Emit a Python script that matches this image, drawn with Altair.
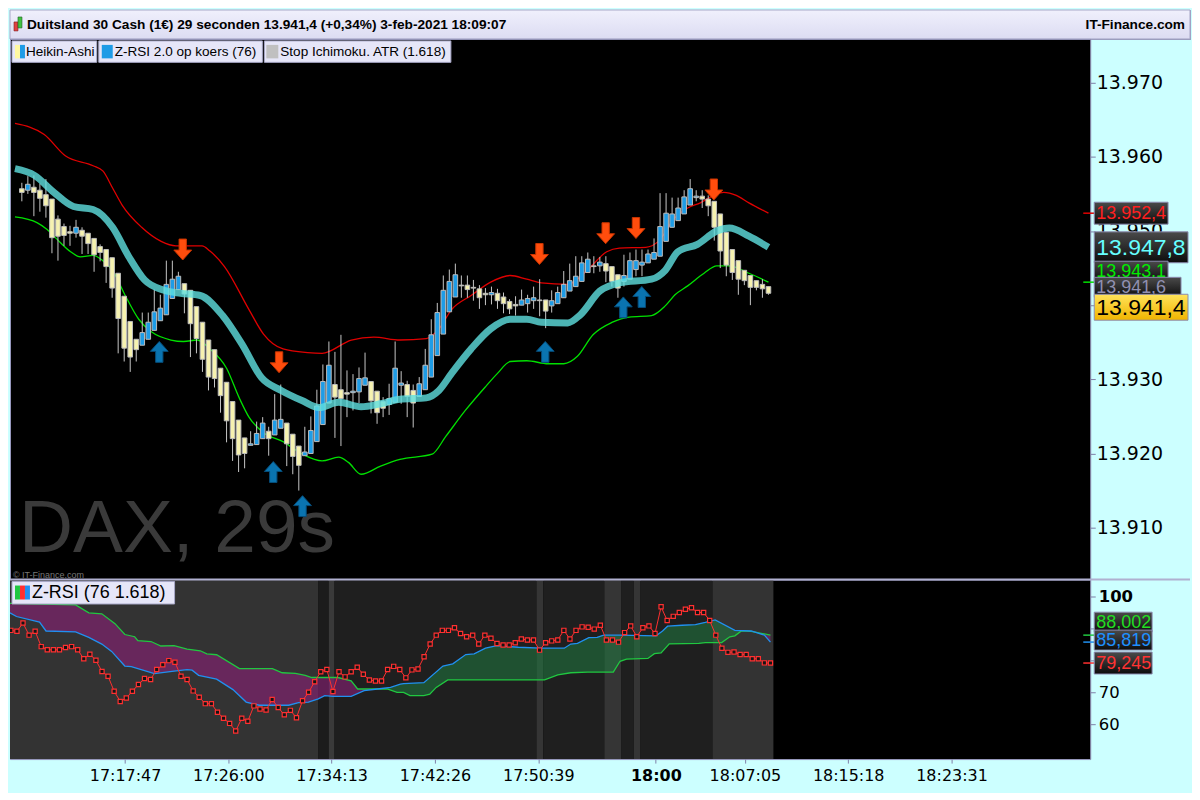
import altair as alt
import pandas as pd
import numpy as np

# ---------------- layout constants ----------------
W, H_HEAD, H_MAIN, H_LOW, TOTAL_W = 1083, 29, 542, 180, 1183
X_DOM = [518, 5673]                # seconds after 17:00:00
Y_MAIN_DOM = [13903.0, 13975.9]
Y_LOW_DOM = [49.1, 105.45]
FONT = "Liberation Sans"
AXFONT = "DejaVu Sans"

# ---------------- Heikin-Ashi candles (29 s) ----------------
first_candle_sec = 551
candle_step = 29
ha_open = [13955.7,13955.5,13955.9,13955.5,13954.9,13954.3,13951.6,13950.6,13949.9,13949.7,
           13950.1,13949.7,13949.0,13947.9,13947.5,13946.4,13944.3,13941.2,13937.8,13935.4,
           13934.6,13935.4,13936.6,13937.9,13938.7,13940.9,13942.1,13942.9,13942.0,13939.8,
           13937.7,13935.3,13934.0,13931.5,13929.6,13927.0,13924.5,13922.1,13921.1,13921.2,
           13922.0,13923.0,13922.5,13923.4,13924.1,13922.6,13921.0,13919.7,13920.0,13921.6,
           13923.9,13926.8,13929.3,13928.6,13928.2,13928.2,13928.3,13929.2,13929.7,13928.4,
           13927.0,13926.6,13926.9,13929.2,13929.3,13928.5,13927.7,13928.6,13930.3,13933.2,
           13936.1,13939.1,13941.1,13942.7,13942.7,13942.4,13942.2,13941.6,13941.4,13941.6,
           13941.1,13940.5,13940.1,13940.0,13940.2,13940.6,13940.7,13940.7,13939.9,13940.2,
           13941.0,13941.9,13942.5,13943.2,13944.4,13945.3,13945.3,13945.6,13945.2,13944.1,
           13943.2,13943.5,13944.8,13945.4,13945.7,13946.2,13946.6,13948.6,13950.5,13951.4,
           13952.3,13953.5,13954.5,13954.7,13954.3,13954.0,13952.3,13949.8,13947.5,13946.0,
           13944.7,13944.0,13943.3,13942.8,13942.5]
ha_close = [13955.2,13956.3,13955.2,13954.4,13953.4,13949.1,13949.3,13949.4,13949.7,13950.5,
            13949.3,13948.3,13946.8,13947.1,13945.2,13942.3,13938.2,13934.2,13933.0,13934.0,
            13936.3,13937.7,13939.1,13939.6,13942.8,13943.5,13943.9,13941.5,13937.5,13935.5,
            13932.7,13930.3,13930.1,13927.8,13924.4,13922.0,13919.8,13920.0,13921.3,13922.7,
            13924.1,13922.0,13924.5,13924.6,13921.3,13919.6,13918.4,13920.2,13923.1,13926.4,
            13929.7,13931.9,13927.6,13927.4,13928.0,13928.4,13930.1,13930.2,13927.1,13925.5,
            13926.1,13927.4,13931.5,13929.5,13927.7,13926.8,13929.4,13931.9,13936.0,13939.0,
            13942.0,13943.2,13944.1,13942.6,13942.1,13942.3,13941.0,13941.4,13941.7,13940.6,
            13940.2,13939.5,13939.9,13940.7,13940.9,13941.0,13940.6,13939.2,13940.6,13941.7,
            13942.8,13943.3,13943.9,13945.7,13946.2,13945.2,13945.8,13944.6,13943.2,13942.3,
            13944.0,13946.0,13946.0,13945.8,13946.9,13947.1,13950.6,13952.4,13952.3,13953.1,
            13954.6,13955.7,13954.7,13954.3,13953.4,13950.5,13947.3,13945.4,13944.4,13943.5,
            13943.3,13942.4,13942.4,13942.2,13941.6]
ha_high = [13956.5,13957.4,13957.5,13956.4,13957.0,13954.3,13952.1,13951.0,13950.7,13951.5,
           13950.5,13949.7,13949.0,13948.2,13947.5,13946.4,13944.3,13941.2,13937.8,13935.4,
           13939.0,13939.0,13942.1,13941.4,13946.0,13946.0,13944.5,13942.9,13942.0,13939.8,
           13937.7,13935.3,13934.0,13931.5,13929.6,13927.0,13924.5,13922.1,13923.0,13924.3,
           13924.9,13923.6,13928.0,13929.3,13924.1,13922.6,13921.0,13923.6,13925.0,13928.6,
           13932.0,13935.1,13933.7,13936.0,13931.2,13930.7,13931.6,13933.6,13929.7,13928.4,
           13927.6,13929.4,13935.1,13931.1,13929.8,13929.3,13930.3,13934.1,13938.1,13940.3,
           13944.0,13944.8,13945.6,13944.0,13944.0,13943.4,13942.7,13942.3,13942.5,13942.2,
           13941.7,13940.8,13941.2,13942.1,13941.4,13942.5,13943.5,13940.7,13942.0,13942.5,
           13944.6,13945.6,13946.6,13946.6,13947.1,13946.6,13946.5,13946.6,13945.2,13944.1,
           13946.8,13947.1,13947.5,13947.5,13947.5,13949.0,13955.1,13955.1,13954.5,13954.5,
           13955.5,13957.0,13955.5,13955.5,13954.8,13954.0,13952.3,13949.8,13947.5,13946.0,
           13944.7,13944.0,13943.3,13943.5,13942.5]
ha_low = [13954.0,13955.0,13952.0,13952.6,13951.8,13947.0,13946.0,13948.0,13948.0,13949.1,
          13946.9,13946.9,13944.5,13945.9,13943.0,13941.0,13933.5,13932.4,13931.0,13932.4,
          13934.6,13935.4,13936.6,13937.9,13938.7,13940.9,13942.1,13938.9,13933.0,13933.5,
          13931.0,13928.5,13928.9,13925.5,13921.5,13919.0,13917.5,13918.0,13921.1,13921.2,
          13922.0,13919.7,13922.5,13923.4,13918.3,13917.2,13915.0,13919.7,13920.0,13921.6,
          13923.9,13926.8,13922.1,13921.0,13924.9,13925.8,13926.8,13929.2,13925.4,13924.0,
          13924.9,13925.2,13926.9,13926.7,13924.9,13923.5,13927.7,13928.6,13930.3,13933.2,
          13936.1,13939.1,13941.1,13941.0,13941.0,13940.6,13939.5,13940.0,13940.1,13939.5,
          13938.9,13938.8,13938.6,13940.0,13939.0,13939.5,13938.5,13936.9,13939.0,13940.2,
          13941.0,13941.9,13942.5,13943.2,13944.4,13944.3,13944.5,13943.1,13942.5,13941.0,
          13942.5,13943.5,13943.9,13943.9,13945.7,13946.2,13946.6,13948.6,13950.5,13951.4,
          13952.3,13953.5,13954.0,13953.1,13952.0,13948.7,13945.0,13943.9,13943.4,13941.4,
          13942.7,13940.0,13942.0,13941.0,13941.4]

# ---------------- Stop Ichimoku ATR bands ----------------
red_t = [518,659,762,894,941,988,1034,1128,1222,1293,1419,1457,1527,1645,1715,1809,1927,1997,2138,2246,
         2372,2499,2560,2621,2715,2809,2903,2983,3053,3180,3274,3368,3429,3556,3617,3697,3758,3819,3884,
         3931,3992,4053,4147]
red_v = [13964.5,13963.0,13960.1,13958.8,13958.1,13955.8,13953.5,13950.5,13948.6,13948.0,13948.0,13947.3,
         13945.2,13939.4,13936.1,13934.1,13933.6,13933.5,13935.3,13935.7,13935.3,13935.5,13936.8,13939.4,
         13941.3,13943.1,13944.0,13943.5,13943.0,13942.8,13944.7,13947.2,13947.7,13947.8,13948.6,13951.8,
         13953.1,13953.8,13954.8,13955.2,13954.8,13953.8,13952.4]
teal_t = [518,612,706,800,894,988,1067,1142,1236,1316,1410,1518,1612,1706,1800,1903,1983,2077,2185,2279,
          2372,2499,2560,2621,2715,2809,2903,2983,3053,3180,3241,3335,3429,3584,3650,3711,3805,3898,3959,
          4053,4147]
teal_v = [13958.4,13957.5,13955.2,13953.3,13952.9,13950.5,13946.5,13943.4,13942.0,13941.6,13941.3,13938.6,
          13934.7,13930.2,13928.5,13927.1,13926.2,13926.9,13926.3,13926.7,13927.3,13927.5,13928.5,13930.8,
          13934.1,13936.8,13938.1,13938.1,13937.7,13937.6,13938.7,13941.9,13943.0,13943.5,13944.7,13947.2,
          13948.2,13950.0,13950.4,13949.3,13947.8]
green_t = [518,626,673,720,786,833,894,941,988,1049,1114,1175,1269,1330,1396,1457,1537,1598,1645,1715,
           1809,1903,1997,2077,2124,2185,2279,2372,2527,2593,2687,2781,2842,2903,2983,3086,3161,3227,3302,
           3396,3476,3584,3650,3697,3758,3837,3898,3959,4053,4147]
green_v = [13951.9,13951.1,13950.2,13948.9,13947.2,13946.5,13946.7,13946.0,13944.7,13941.3,13938.1,13936.4,
           13935.3,13935.1,13935.3,13934.1,13931.5,13927.5,13924.9,13922.8,13921.6,13919.9,13919.0,13919.5,
           13918.8,13917.2,13918.3,13919.2,13919.9,13922.3,13925.8,13928.9,13930.8,13932.4,13932.5,13932.1,
           13932.1,13933.1,13936.0,13937.7,13938.4,13938.6,13939.9,13941.4,13942.6,13944.3,13945.3,13945.3,
           13944.3,13943.1]

# signal arrows
down_t = [1326, 1790, 3044, 3363, 3509, 3884]
down_p = [13947.5, 13932.3, 13946.9, 13949.7, 13950.4, 13955.6]
up_t = [1213, 1762, 1903, 3072, 3448, 3537]
up_p = [13933.7, 13917.5, 13912.9, 13933.7, 13939.7, 13941.1]

# ---------------- Z-RSI panel ----------------
zr_first_sec = 522
zr_red = [89.5,
          89.2,91.8,88.0,89.2,84.4,83.4,83.4,83.4,84.1,84.4,83.4,80.6,82.0,80.1,76.6,75.1,70.4,67.2,68.3,70.4,
          72.5,74.4,74.1,77.2,78.7,80.0,79.5,75.1,74.1,70.5,68.5,66.5,66.5,63.8,61.9,60.3,57.9,61.9,61.0,65.8,
          64.8,64.5,67.8,65.3,63.0,64.4,62.1,67.4,70.1,73.4,76.5,77.2,70.3,76.5,74.9,76.5,77.9,75.7,73.9,73.6,
          73.6,77.2,78.2,77.2,
          74.6,77.1,77.4,81.2,85.2,88.0,89.5,89.5,90.3,88.5,87.5,88.0,85.2,88.0,87.0,85.4,84.9,84.9,85.6,86.8,
          86.5,86.5,83.3,85.6,86.2,86.5,89.5,86.8,89.5,90.6,90.5,89.9,91.1,86.5,86.5,85.8,88.8,90.9,87.5,90.3,
          90.9,88.5,96.9,92.6,93.9,95.1,96.1,96.6,95.1,95.1,92.6,88.0,83.9,82.6,82.7,81.9,81.9,80.6,80.6,79.3,
          79.245]
zb_t = [518,549,659,690,831,894,956,1003,1066,1097,1207,1301,1363,1387,1418,1504,1582,1645,1707,1848,1895,
        1942,1989,2020,2059,2146,2208,2271,2334,2381,2396,2493,2584,2631,2693,2733,2787,2842,2944,3053,3163,
        3194,3226,3280,3320,3351,3429,3601,3632,3656,3726,3789,3836,3883,3977,4055,4118,4147]
zb_v = [95.0,93.85,92.1,89.3,89.0,87.3,85.2,82.9,78.3,78.1,75.9,76.7,77.2,77.0,75.4,74.2,70.9,67.0,66.0,66.0,
        66.8,67.0,68.0,69.0,68.8,68.8,70.6,71.1,71.6,72.6,72.8,73.1,78.3,79.0,81.9,82.1,83.9,84.7,84.2,83.9,
        83.9,85.2,85.4,87.2,87.3,88.0,88.0,87.8,89.3,90.8,91.1,91.3,92.0,92.8,89.5,89.3,88.0,85.819]
zg_t = [518,831,894,956,1019,1066,1113,1128,1191,1238,1301,1363,1426,1457,1504,1613,1770,1817,1880,1927,
        1958,2083,2146,2177,2318,2365,2396,2427,2493,2521,2552,2607,3069,3132,3194,3273,3397,3429,3460,3562,
        3593,3625,3664,3805,3836,3914,3953,3977,4008,4055,4086,4147]
zg_v = [98.0,97.5,95.0,94.7,91.6,88.2,87.5,86.3,86.0,84.6,84.7,83.6,83.1,82.1,81.85,77.5,77.5,76.2,76.0,75.4,
        74.7,74.7,73.65,71.1,71.1,70.06,70.06,69.03,69.03,69.5,71.6,73.95,73.95,75.5,76.2,76.4,76.4,79.8,80.5,
        80.7,82.2,82.4,85.24,85.4,85.65,85.65,87.5,87.8,89.34,89.2,88.8,88.002]

# background session bands of the Z-RSI panel
band_t0 = [518, 1988, 2039, 2067, 3030, 3063, 3354, 3434, 3495, 3527, 3870]
band_t1 = [1988, 2039, 2067, 3030, 3063, 3354, 3434, 3495, 3527, 3870, 4161]
band_col = ['#333333', '#1c1c1c', '#3a3a3a', '#1f1f1f', '#353535', '#1f1f1f',
            '#353535', '#1f1f1f', '#353535', '#1f1f1f', '#333333']

x_tick_secs = [1067, 1560, 2053, 2546, 3039, 3600, 4025, 4518, 5011]
main_ticks = [13910, 13920, 13930, 13940, 13950, 13960, 13970]
low_ticks = [60, 70, 80, 90, 100]

# ---------------- data frames ----------------
cdf = pd.DataFrame({'t': [first_candle_sec + candle_step * i for i in range(len(ha_open))],
                    'o': ha_open, 'c': ha_close, 'h': ha_high, 'l': ha_low})
cdf['col'] = np.where(cdf['c'] > cdf['o'], '#1e9ce6', '#f6f2b0')
red_df = pd.DataFrame({'t': red_t, 'v': red_v})
teal_df = pd.DataFrame({'t': teal_t, 'v': teal_v})
green_df = pd.DataFrame({'t': green_t, 'v': green_v})
down_df = pd.DataFrame({'t': down_t, 'p': down_p})
up_df = pd.DataFrame({'t': up_t, 'p': up_p})
zr_df = pd.DataFrame({'t': [zr_first_sec + candle_step * i for i in range(len(zr_red))], 'v': zr_red})
zb_df = pd.DataFrame({'t': zb_t, 'v': zb_v})
zg_df = pd.DataFrame({'t': zg_t, 'v': zg_v})
band_df = pd.DataFrame({'t0': band_t0, 't1': band_t1, 'col': band_col})
grid = np.union1d(np.union1d(zb_t, zg_t), np.arange(518, 4148, 3))
gb = np.interp(grid, zb_t, zb_v)
gg = np.interp(grid, zg_t, zg_v)
fill_df = pd.DataFrame({'t': grid, 'g': gg, 'b': gb, 'lo': np.minimum(gb, gg)})
one = pd.DataFrame({'k': [0]})

xs = alt.Scale(domain=X_DOM, nice=False, zero=False)
ys = alt.Scale(domain=Y_MAIN_DOM, nice=False, zero=False)
yl = alt.Scale(domain=Y_LOW_DOM, nice=False, zero=False)

main_axis = alt.Axis(orient='right', values=main_ticks, title=None, grid=False, domain=False,
                     labelExpr="replace(format(datum.value, ',.0f'), ',', '.')",
                     tickColor='#8080a8', tickSize=5, labelPadding=1, labelFont=AXFONT,
                     labelFontSize=19, labelColor='#000000', minExtent=100, maxExtent=100)
low_axis = alt.Axis(orient='right', values=low_ticks, title=None, grid=False, domain=False,
                    tickColor='#8080a8', tickSize=5, labelPadding=3, labelFont=AXFONT, labelFontSize=16.5,
                    labelColor='#000000', minExtent=100, maxExtent=100,
                    labelFontWeight={"condition": {"test": "datum.value == 100", "value": "bold"},
                                     "value": "normal"})
x_axis = alt.Axis(orient='bottom', values=x_tick_secs, title=None, grid=False, domain=False,
                  labelExpr=("datum.value == 3600 ? '18:00' : (17 + floor(datum.value / 3600)) + ':' + "
                             "(floor((datum.value % 3600) / 60) < 10 ? '0' : '') + floor((datum.value % 3600) / 60)"
                             " + ':' + (datum.value % 60 < 10 ? '0' : '') + (datum.value % 60)"),
                  tickColor='#8080a8', tickSize=4, labelPadding=4, labelFont=AXFONT, labelFontSize=16,
                  labelColor='#000000', minExtent=32, maxExtent=32, labelFlush=False,
                  labelFontWeight={"condition": {"test": "datum.value == 3600", "value": "bold"},
                                   "value": "normal"})


def XM(f):
    return alt.X(f, type='quantitative', scale=xs, axis=None)


def XL(f):
    return alt.X(f, type='quantitative', scale=xs, axis=x_axis)


def YM(f):
    return alt.Y(f, type='quantitative', scale=ys, axis=main_axis)


def YL(f):
    return alt.Y(f, type='quantitative', scale=yl, axis=low_axis)


def box(x1, x2, y1, y2, **kw):
    return alt.Chart(one).mark_rect(**kw).encode(
        x=alt.value(x1), x2=alt.value(x2), y=alt.value(y1), y2=alt.value(y2))


def txt(text, x, y, **kw):
    kw.setdefault('font', FONT)
    kw.setdefault('baseline', 'middle')
    kw.setdefault('align', 'left')
    return alt.Chart(one).mark_text(text=text, **kw).encode(x=alt.value(x), y=alt.value(y))


def grad(c1, c2):
    return {"gradient": "linear", "x1": 0, "y1": 0, "x2": 0, "y2": 1,
            "stops": [{"offset": 0, "color": c1}, {"offset": 1, "color": c2}]}


def value_box(value, text, fg, width, height, offset, size, Y, fill, tick=None):
    d = pd.DataFrame({'v': [value]})
    rect = alt.Chart(d).mark_rect(fill=fill, stroke='#8c8cb0', strokeWidth=1,
                                  yOffset=offset - height / 2, y2Offset=offset + height / 2).encode(
        x=alt.value(W + 4), x2=alt.value(W + 4 + width), y=Y('v'), y2='v:Q')
    label = alt.Chart(d).mark_text(text=text, color=fg, fontSize=size, font=FONT, align='left',
                                   baseline='middle', dy=offset + 1).encode(
        x=alt.value(W + 6), y=Y('v'))
    layers = [rect, label]
    if tick:
        layers.insert(0, alt.Chart(d).mark_rule(color=tick, strokeWidth=1.5).encode(
            x=alt.value(W - 7), x2=alt.value(W + 4), y=Y('v')))
    return layers


DARK = grad('#4a4a4a', '#0c0c0c')
DOWN = "M-0.35,-1L0.35,-1L0.35,0.05L0.85,0.05L0,1L-0.85,0.05L-0.35,0.05Z"
UP = "M-0.35,1L0.35,1L0.35,-0.05L0.85,-0.05L0,-1L-0.85,-0.05L-0.35,-0.05Z"

# ---------------- header ----------------
header = alt.layer(
    box(0, TOTAL_W, 0, H_HEAD, fill=grad('#f0f0fc', '#dcdcf2'), stroke='#a8a8c8', strokeWidth=1),
    box(4, 8, 12, 21, fill='#e04040', stroke='#802020', strokeWidth=0.6),
    box(8, 12, 7, 18, fill='#40c040', stroke='#206020', strokeWidth=0.6),
    txt("Duitsland 30 Cash (1€) 29 seconden 13.941,4 (+0,34%) 3-feb-2021 18:09:07", 17, 15,
        fontSize=13.7, fontWeight='bold', color='#000000'),
    txt("IT-Finance.com", TOTAL_W - 5, 15, fontSize=13.7, fontWeight='bold', color='#000000', align='right'),
).properties(width=TOTAL_W, height=H_HEAD)

# ---------------- main price panel ----------------
watermark = txt("DAX, 29s", 9, 514, fontSize=75, color='#3a3a3a', baseline='alphabetic')
copyright_ = txt("© IT-Finance.com", 3, 537, fontSize=9, color='#777777')

red_line = alt.Chart(red_df).mark_line(color='#e00000', strokeWidth=1.3, interpolate='monotone',
                                       clip=True).encode(x=XM('t'), y=YM('v'))
green_line = alt.Chart(green_df).mark_line(color='#00e000', strokeWidth=1.3, interpolate='monotone',
                                           clip=True).encode(x=XM('t'), y=YM('v'))
wicks = alt.Chart(cdf).mark_rule(color='#c6c6c6', strokeWidth=1, clip=True).encode(
    x=XM('t'), y=YM('l'), y2='h:Q')
bodies = alt.Chart(cdf).mark_bar(size=4.6, stroke='#bcbcbc', strokeWidth=1, clip=True).encode(
    x=XM('t'), y=YM('o'), y2='c:Q', color=alt.Color('col:N', scale=None))
teal_line = alt.Chart(teal_df).mark_line(color='#5fe0e0', opacity=0.8, strokeWidth=7,
                                         interpolate='monotone', clip=True).encode(
    x=XM('t'), y=YM('v'))
down_arrows = alt.Chart(down_df).mark_point(shape=DOWN, size=441, filled=True, fill='#ff4d0d',
                                            stroke='#c83400', strokeWidth=1, opacity=1, clip=True).encode(
    x=XM('t'), y=YM('p'))
up_arrows = alt.Chart(up_df).mark_point(shape=UP, size=441, filled=True, fill='#0a74b0',
                                        stroke='#064d7a', strokeWidth=1, opacity=1, clip=True).encode(
    x=XM('t'), y=YM('p'))

LEG = dict(fill='#e6e6f8', stroke='#a8a8c8', strokeWidth=1)
legend_main = [
    box(2, 87, 2, 23.5, **LEG), box(5, 10, 6, 19.5, fill='#fff8a0'), box(10, 15, 6, 19.5, fill='#1e9ce6'),
    box(89, 253, 2, 23.5, **LEG), box(92, 103, 6, 19.5, fill='#1e9ce6'),
    box(255, 442, 2, 23.5, **LEG), box(257, 269, 6, 19.5, fill='#c0c0c0'),
    txt("Heikin-Ashi", 16, 13, fontSize=13.6, color='#000000'),
    txt("Z-RSI 2.0 op koers (76)", 105, 13, fontSize=13.6, color='#000000'),
    txt("Stop Ichimoku. ATR (1.618)", 271, 13, fontSize=13.6, color='#000000'),
]

price_boxes = (value_box(13952.4, "13.952,4", '#ff2020', 74, 22, 0, 18, YM, DARK, tick='#e00000')
               + value_box(13947.8, "13.947,8", '#66ffff', 94, 31, 0, 23, YM, DARK)
               + value_box(13943.1, "13.943,1", '#00ee00', 74, 20, -11, 18, YM, DARK, tick='#00e000')
               + value_box(13941.6, "13.941,6", '#9090b0', 87, 20, -6, 18, YM, DARK)
               + value_box(13941.4, "13.941,4", '#000000', 94, 26, 12.5, 23, YM, grad('#ffe35a', '#f0b400')))

main = alt.layer(watermark, copyright_, red_line, green_line, wicks, bodies, teal_line,
                 down_arrows, up_arrows, *legend_main, *price_boxes).properties(width=W, height=H_MAIN)

# ---------------- Z-RSI panel ----------------
bands = alt.Chart(band_df).mark_rect(clip=True).encode(
    x=XL('t0'), x2='t1', y=alt.value(0), y2=alt.value(H_LOW), color=alt.Color('col:N', scale=None))
fill_purple = alt.Chart(fill_df).mark_area(color='#8c1f78', opacity=0.6, clip=True).encode(
    x=XL('t'), y=YL('g'), y2='lo:Q')
fill_green = alt.Chart(fill_df).mark_area(color='#1f7a3f', opacity=0.55, clip=True).encode(
    x=XL('t'), y=YL('b'), y2='lo:Q')
zg_line = alt.Chart(zg_df).mark_line(color='#20c840', strokeWidth=1.3, clip=True).encode(x=XL('t'), y=YL('v'))
zb_line = alt.Chart(zb_df).mark_line(color='#2090f0', strokeWidth=1.3, clip=True).encode(x=XL('t'), y=YL('v'))
zr_line = alt.Chart(zr_df).mark_line(color='#ff3030', strokeWidth=1, clip=True).encode(x=XL('t'), y=YL('v'))
zr_pts = alt.Chart(zr_df).mark_point(shape='square', size=18, filled=True, fill='#141414',
                                     stroke='#ff3030', strokeWidth=1.2, opacity=1, clip=True).encode(
    x=XL('t'), y=YL('v'))

legend_low = [
    box(2, 165, 2, 24.5, **LEG), box(5, 10, 6, 20, fill='#20c840'), box(10, 15, 6, 20, fill='#ff3030'),
    box(15, 20, 6, 20, fill='#2090f0'),
    txt("Z-RSI (76 1.618)", 22, 13.5, fontSize=18, color='#000000'),
]
low_boxes = (value_box(88.002, "88,002", '#22dd22', 58, 20, -13, 18, YL, DARK, tick='#20c840')
             + value_box(85.819, "85,819", '#1e90ff', 58, 20, -2, 18, YL, DARK, tick='#2090f0')
             + value_box(79.245, "79,245", '#ff3333', 58, 22, 0, 18, YL, DARK, tick='#ff3030'))
separator = alt.Chart(one).mark_rule(color='#b0b0d0', strokeWidth=2).encode(
    x=alt.value(0), x2=alt.value(TOTAL_W), y=alt.value(0))

lower = alt.layer(bands, fill_purple, fill_green, zg_line, zb_line, zr_line, zr_pts,
                  *legend_low, *low_boxes, separator).properties(width=W, height=H_LOW)

chart = alt.vconcat(header, main, lower, spacing=0, padding=0, bounds='flush').configure(
    background='#ccffff', padding=0).configure_view(fill='#000000', stroke='#9a9ac0', strokeWidth=1)

chart.save("out.html", embed_options={"renderer": "svg", "actions": False})
